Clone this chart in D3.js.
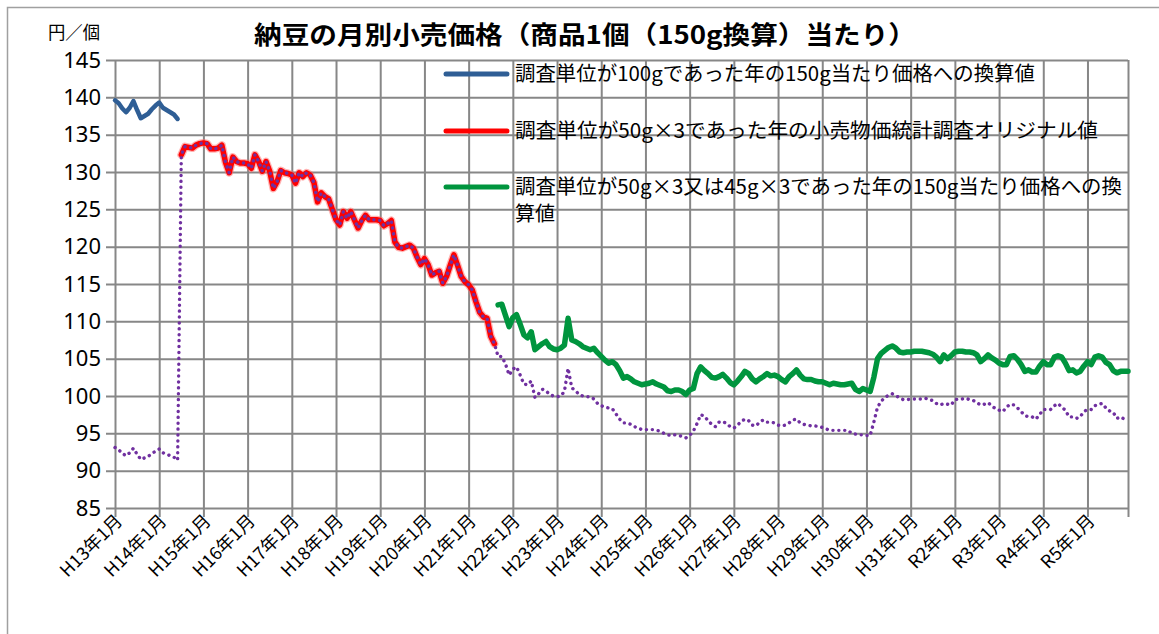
<!DOCTYPE html>
<html>
<head>
<meta charset="utf-8">
<title>納豆の月別小売価格</title>
<script src="https://cdn.jsdelivr.net/npm/d3@7"></script>
<style>
  body { margin: 0; background: #fff; }
  text { font-family: "Noto Sans CJK JP", "Noto Sans", sans-serif; fill: #000; }
</style>
</head>
<body>
<script>
// month index 0 = H13年1月, last = R5年12月
var monthCount = 276;
var yearLabels = ["H13年1月","H14年1月","H15年1月","H16年1月","H17年1月","H18年1月","H19年1月",
  "H20年1月","H21年1月","H22年1月","H23年1月","H24年1月","H25年1月","H26年1月","H27年1月",
  "H28年1月","H29年1月","H30年1月","H31年1月","R2年1月","R3年1月","R4年1月","R5年1月"];
var yTicks = [85, 90, 95, 100, 105, 110, 115, 120, 125, 130, 135, 140, 145];

var seriesNames = [
  "調査単位が100gであった年の150g当たり価格への換算値",
  "調査単位が50g×3であった年の小売物価統計調査オリジナル値",
  "調査単位が50g×3又は45g×3であった年の150g当たり価格への換算値"
];

// 100g単位の年 (150g換算), months 0-17
var blueStart = 0;
var bluePrice = [139.6, 139.2, 138.5, 138.0, 138.6, 139.5, 138.3, 137.2, 137.5, 137.8,
  138.4, 138.9, 139.3, 138.6, 138.3, 138.0, 137.7, 137.1];

// 50g×3 original, months 18-103
var redStart = 18;
var redPrice = [132.3, 133.4, 133.3, 133.2, 133.6, 133.8, 133.9, 133.8, 133.1, 133.1,
  133.2, 133.6, 131.3, 129.9, 132.0, 131.4, 131.2, 131.2, 131.1, 130.5,
  132.3, 131.4, 130.1, 131.4, 130.1, 127.8, 128.7, 130.2, 129.9, 129.8,
  129.6, 128.5, 129.9, 129.4, 129.9, 129.6, 128.6, 126.0, 127.2, 126.7,
  126.4, 125.0, 123.6, 122.9, 124.7, 123.8, 124.7, 123.6, 122.5, 123.5,
  124.2, 123.6, 123.6, 123.6, 123.5, 122.8, 123.1, 123.5, 120.6, 119.9,
  119.8, 120.0, 120.2, 119.8, 118.6, 117.6, 118.4, 117.6, 116.2, 116.5,
  116.7, 115.1, 116.0, 117.5, 118.9, 117.5, 116.0, 115.3, 114.9, 114.2,
  112.6, 111.2, 110.6, 110.4, 108.0, 107.0];

// 50g×3 / 45g×3 (150g換算), months 104-275
var greenStart = 104;
var greenPrice = [112.2, 112.3, 110.8, 109.3, 110.5, 110.9, 109.6, 108.2, 107.8, 108.6,
  106.2, 106.6, 107.0, 107.3, 106.6, 106.3, 106.2, 106.4, 106.8, 110.4,
  107.5, 107.3, 107.0, 106.6, 106.4, 106.2, 106.4, 105.8, 105.3, 104.8,
  104.4, 104.6, 104.2, 103.4, 102.4, 102.6, 102.3, 101.9, 101.7, 101.5,
  101.6, 101.7, 101.9, 101.6, 101.4, 101.2, 100.7, 100.6, 100.8, 100.8,
  100.6, 100.2, 100.8, 101.0, 103.0, 103.9, 103.4, 103.0, 102.5, 102.4,
  102.6, 102.9, 102.4, 101.8, 101.5, 102.0, 102.6, 103.3, 103.0, 102.3,
  101.9, 102.3, 102.6, 103.0, 102.7, 102.8, 102.6, 102.2, 101.9, 102.6,
  103.0, 103.5, 102.8, 102.3, 102.2, 102.2, 102.0, 101.9, 101.9, 101.7,
  101.5, 101.7, 101.6, 101.5, 101.5, 101.6, 101.7, 100.9, 100.6, 101.0,
  100.8, 100.6, 102.5, 105.0, 105.7, 106.1, 106.5, 106.7, 106.4, 105.9,
  105.8, 105.9, 105.9, 106.0, 106.0, 106.0, 105.9, 105.8, 105.6, 105.2,
  104.6, 105.5, 105.0, 105.4, 105.9, 106.0, 106.0, 105.9, 105.9, 105.8,
  105.5, 104.6, 105.0, 105.5, 105.1, 104.8, 104.4, 104.2, 104.2, 105.3,
  105.4, 104.9, 104.2, 103.3, 103.5, 103.2, 103.2, 104.0, 104.6, 104.2,
  104.2, 105.2, 105.4, 105.2, 104.4, 103.4, 103.5, 103.1, 103.3, 104.0,
  104.6, 104.2, 105.2, 105.4, 105.2, 104.5, 104.2, 103.4, 103.1, 103.3,
  103.3, 103.3];

// 小売物価統計 original values (dotted), months 0-17 and 104-275; 18-103 = redPrice
var originalEarly = [93.1, 92.8, 92.3, 92.0, 92.4, 93.0, 92.2, 91.5, 91.7, 91.9,
  92.3, 92.6, 92.9, 92.4, 92.2, 92.0, 91.8, 91.4];
var originalLate = [105.3, 105.3, 104.3, 102.8, 103.6, 103.9, 102.8, 101.6, 101.5, 102.0,
  99.8, 100.3, 100.9, 100.7, 100.2, 100.0, 99.9, 100.0, 100.6, 103.7,
  101.1, 100.7, 100.2, 100.0, 99.9, 99.9, 99.6, 99.0, 98.7, 98.5,
  98.4, 98.3, 97.6, 96.9, 96.4, 96.4, 96.2, 95.9, 95.7, 95.5,
  95.5, 95.5, 95.5, 95.4, 95.3, 95.0, 94.8, 94.7, 94.8, 94.7,
  94.6, 94.4, 94.7, 95.3, 96.3, 97.5, 97.3, 96.7, 96.2, 95.9,
  96.5, 96.6, 96.3, 95.9, 95.7, 96.1, 96.6, 96.9, 96.7, 96.1,
  96.0, 96.5, 96.8, 96.5, 96.5, 96.4, 96.1, 96.0, 96.1, 96.4,
  96.8, 96.9, 96.4, 96.2, 96.1, 96.0, 96.0, 95.9, 95.8, 95.6,
  95.4, 95.4, 95.4, 95.4, 95.4, 95.4, 95.0, 94.9, 94.8, 94.8,
  94.7, 94.7, 96.5, 98.5, 99.3, 99.8, 100.1, 100.3, 100.0, 99.8,
  99.5, 99.5, 99.6, 99.6, 99.6, 99.6, 99.7, 99.5, 99.4, 99.0,
  98.8, 99.0, 98.9, 98.8, 99.5, 99.6, 99.6, 99.7, 99.5, 99.4,
  99.1, 98.8, 98.9, 99.1, 98.7, 98.3, 98.1, 97.9, 98.5, 98.9,
  98.8, 98.4, 97.9, 97.4, 97.2, 97.2, 96.9, 97.5, 98.2, 98.2,
  98.2, 98.7, 99.0, 98.5, 98.1, 97.2, 97.2, 97.0, 97.2, 97.9,
  98.2, 98.2, 98.7, 98.9, 99.0, 98.4, 98.0, 97.8, 97.0, 97.2,
  96.9, 96.8];
var originalPrice = originalEarly.concat(redPrice, originalLate);

var W = 1159, H = 634;
var margin = {top: 60, right: 31, bottom: 126, left: 115};
var plotW = W - margin.left - margin.right,
    plotH = H - margin.top - margin.bottom;

var x = d3.scaleLinear().domain([0, monthCount - 1]).range([margin.left, margin.left + plotW]);
var y = d3.scaleLinear().domain([85, 145]).range([margin.top + plotH, margin.top]);

var svg = d3.select("body").append("svg")
    .attr("width", W)
    .attr("height", H);

svg.append("rect").attr("width", W).attr("height", H).attr("fill", "#fff");

// chart frame (only top/left visible in the crop)
svg.append("path")
    .attr("d", "M7.5," + H + " V7.5 H" + W)
    .attr("fill", "none")
    .attr("stroke", "#a0a0a0")
    .attr("stroke-width", 1.5);

var gridColor = "#878787";

// y grid + ticks
var yAxis = svg.append("g")
    .attr("transform", "translate(" + margin.left + ",0)")
    .call(d3.axisLeft(y).tickValues(yTicks).tickSize(9).tickPadding(6));
yAxis.select(".domain").remove();
yAxis.selectAll(".tick line")
    .attr("x1", -9).attr("x2", plotW)
    .attr("stroke", gridColor).attr("stroke-width", 2);
yAxis.selectAll(".tick text")
    .style("font-family", "'Noto Sans', sans-serif")
    .style("font-size", "22px")
    .attr("x", -14);

// x grid + ticks (every 12 months plus right edge)
var xTickIdx = d3.range(0, monthCount, 12).concat([monthCount - 1]);
var xAxis = svg.append("g")
    .attr("transform", "translate(0," + (margin.top + plotH) + ")")
    .call(d3.axisBottom(x).tickValues(xTickIdx).tickSize(9)
      .tickFormat(function(d) { return d % 12 === 0 ? yearLabels[d / 12] : ""; }));
xAxis.select(".domain").remove();
xAxis.selectAll(".tick line")
    .attr("y1", 9).attr("y2", -plotH)
    .attr("stroke", gridColor).attr("stroke-width", 2);
xAxis.selectAll(".tick text")
    .style("font-size", "18px")
    .attr("text-anchor", "end")
    .attr("x", 0).attr("y", 0).attr("dy", 0)
    .attr("transform", "translate(8,14) rotate(-45)");

// lines
var line = function(start) {
  return d3.line()
    .x(function(d, i) { return x(start + i); })
    .y(function(d) { return y(d); });
};

svg.append("path").datum(bluePrice)
    .attr("d", line(blueStart))
    .attr("fill", "none").attr("stroke", "#2f5e95")
    .attr("stroke-width", 4.5).attr("stroke-linejoin", "round").attr("stroke-linecap", "round");

svg.append("path").datum(redPrice)
    .attr("d", line(redStart))
    .attr("fill", "none").attr("stroke", "#ff6a6a")
    .attr("stroke-width", 8).attr("stroke-opacity", 0.5)
    .attr("stroke-linejoin", "round").attr("stroke-linecap", "round");
svg.append("path").datum(redPrice)
    .attr("d", line(redStart))
    .attr("fill", "none").attr("stroke", "#ff0000")
    .attr("stroke-width", 5.5).attr("stroke-linejoin", "round").attr("stroke-linecap", "round");

svg.append("path").datum(greenPrice)
    .attr("d", line(greenStart))
    .attr("fill", "none").attr("stroke", "#00953e")
    .attr("stroke-width", 5.5).attr("stroke-linejoin", "round").attr("stroke-linecap", "round");

svg.append("path").datum(originalPrice)
    .attr("d", line(0))
    .attr("fill", "none").attr("stroke", "#7030a0")
    .attr("stroke-width", 3.4).attr("stroke-dasharray", "0.1 5.8")
    .attr("stroke-linecap", "round").attr("stroke-linejoin", "round");

// legend
var legendColors = ["#2f5e95", "#ff0000", "#00953e"];
var legendY = [74, 131, 187];
var legendW = [520, 583, 607];
var legend = svg.append("g");
seriesNames.forEach(function(name, k) {
  legend.append("line")
    .attr("x1", 446).attr("x2", 507)
    .attr("y1", legendY[k]).attr("y2", legendY[k])
    .attr("stroke", legendColors[k]).attr("stroke-width", 5)
    .attr("stroke-linecap", "round");
  var txt = k === 2 ? name.slice(0, name.length - 2) : name;
  legend.append("text")
    .attr("x", 515).attr("y", legendY[k] + 7)
    .attr("textLength", legendW[k]).attr("lengthAdjust", "spacingAndGlyphs")
    .style("font-size", "20px")
    .text(txt);
  if (k === 2) {
    legend.append("text")
      .attr("x", 515).attr("y", legendY[k] + 34)
      .style("font-size", "20px")
      .text(name.slice(name.length - 2));
  }
});

// title and unit
svg.append("text")
    .attr("x", 585).attr("y", 44)
    .attr("text-anchor", "middle")
    .attr("textLength", 662).attr("lengthAdjust", "spacingAndGlyphs")
    .style("font-size", "25px").style("font-weight", "bold")
    .text("納豆の月別小売価格（商品1個（150g換算）当たり）");

svg.append("text")
    .attr("x", 48).attr("y", 39)
    .attr("textLength", 52).attr("lengthAdjust", "spacingAndGlyphs")
    .style("font-size", "18px")
    .text("円／個");
</script>
</body>
</html>
